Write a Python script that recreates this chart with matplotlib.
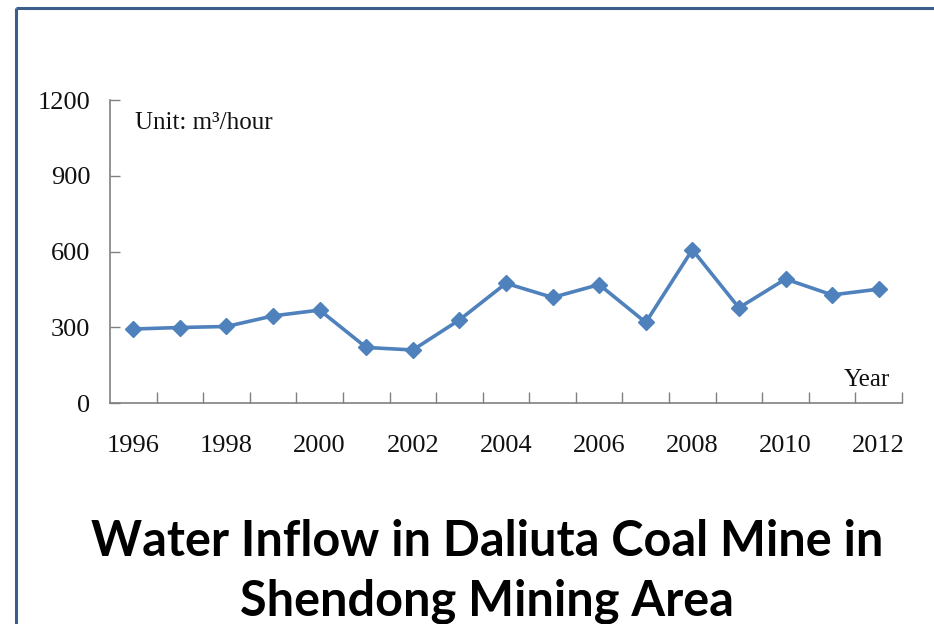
import matplotlib
matplotlib.use("Agg")
import matplotlib.pyplot as plt
from matplotlib.lines import Line2D
from matplotlib.ticker import FixedLocator, NullFormatter

years = list(range(1996, 2013))
inflow = [293, 299, 303, 345, 368, 220, 210, 329, 474, 418, 469, 319, 607, 377, 491, 428, 451]
year_labels = [str(y) if y % 2 == 0 else "" for y in years]
y_ticks = [0, 300, 600, 900, 1200]

W, H = 934, 624
fig = plt.figure(figsize=(W / 100, H / 100), dpi=100)
fig.patch.set_facecolor("white")

ax = fig.add_axes([110 / W, 1 - 403 / H, 792 / W, 303 / H])
x = list(range(len(years)))
ax.plot(x, inflow, color="#4F81BD", lw=2.6, marker="D", markersize=8,
        markerfacecolor="#4F81BD", markeredgecolor="#4F81BD", zorder=3)

ax.set_xlim(-0.5, len(years) - 0.5)
ax.set_ylim(0, 1200)

serif = "Liberation Serif"
ax.set_xticks(x)
ax.set_xticklabels(year_labels, fontfamily=serif, fontsize=19)
ax.xaxis.set_minor_locator(FixedLocator([i - 0.5 for i in range(1, len(years) + 1)]))
ax.xaxis.set_minor_formatter(NullFormatter())
ax.tick_params(axis="x", which="major", length=0, pad=23, labelcolor="#111111")
ax.tick_params(axis="x", which="minor", direction="in", length=8, width=1, color="#808080")

ax.set_yticks(y_ticks)
ax.set_yticklabels([str(v) for v in y_ticks], fontfamily=serif, fontsize=19)
ax.tick_params(axis="y", direction="in", length=7, width=1, color="#808080",
               pad=14, labelcolor="#111111")

for s in ["top", "right"]:
    ax.spines[s].set_visible(False)
for s in ["left", "bottom"]:
    ax.spines[s].set_color("#808080")
    ax.spines[s].set_linewidth(1.2)

ax.text(0.031, 0.925, "Unit: m\u00b3/hour", transform=ax.transAxes, fontfamily=serif,
        fontsize=18, ha="left", va="center", color="#111111")
ax.text(0.985, 0.075, "Year", transform=ax.transAxes, fontfamily=serif,
        fontsize=18, ha="right", va="center", color="#111111")

fig.text(487 / W, 1 - 542 / H, "Water Inflow in Daliuta Coal Mine in",
         fontfamily="Lato", fontweight="bold", fontsize=35, ha="center", va="center")
fig.text(487 / W, 1 - 601 / H, "Shendong Mining Area",
         fontfamily="Lato", fontweight="bold", fontsize=35, ha="center", va="center")

border = "#3B5E8C"
fig.add_artist(Line2D([16 / W, 16 / W], [0, 1 - 8 / H], color=border, lw=2.2,
                      transform=fig.transFigure, solid_capstyle="butt"))
fig.add_artist(Line2D([16 / W, 1], [1 - 8 / H, 1 - 8 / H], color=border, lw=2.2,
                      transform=fig.transFigure, solid_capstyle="butt"))

fig.savefig("out.png", dpi=100)
